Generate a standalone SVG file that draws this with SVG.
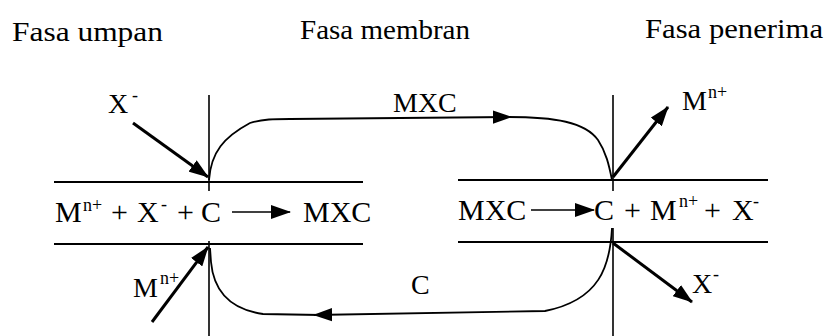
<svg xmlns="http://www.w3.org/2000/svg" width="831" height="336" viewBox="0 0 831 336">
<style>
text{font-family:"Liberation Serif",Tinos,"Noto Serif","DejaVu Serif",serif;fill:#000}
.t{font-size:28px}
.e{font-size:30px}
.s{font-size:18px}
.l{font-size:28px}
.hl{stroke:#000;stroke-width:2.2;fill:none}
.vl{stroke:#000;stroke-width:1.6;fill:none}
.cv{stroke:#000;stroke-width:1.8;fill:none}
.da{stroke:#000;stroke-width:3;fill:none}
</style>
<defs>
<marker id="ah" viewBox="0 0 20 14" markerWidth="20" markerHeight="14" refX="19" refY="7" orient="auto" markerUnits="userSpaceOnUse">
<path d="M0,0 L20,7 L0,14 Z" fill="#000"/>
</marker>
<marker id="ahs" viewBox="0 0 20 14" markerWidth="19" markerHeight="14" refX="19" refY="7" orient="auto" markerUnits="userSpaceOnUse">
<path d="M0,0 L20,7 L0,14 Z" fill="#000"/>
</marker>
</defs>
<rect width="831" height="336" fill="#fff"/>

<g id="title-umpan"><text class="t" x="12" y="41" textLength="151" lengthAdjust="spacingAndGlyphs">Fasa umpan</text></g>
<g id="title-membran"><text class="t" x="300" y="39" textLength="170" lengthAdjust="spacingAndGlyphs">Fasa membran</text></g>
<g id="title-penerima"><text class="t" x="645" y="38" textLength="178" lengthAdjust="spacingAndGlyphs">Fasa penerima</text></g>

<g id="membrane-left">
<line class="vl" x1="209" y1="95" x2="209" y2="191"/>
<line class="vl" x1="209" y1="241" x2="209" y2="336"/>
</g>
<g id="membrane-right">
<line class="vl" x1="613" y1="95" x2="613" y2="191"/>
<line class="vl" x1="613" y1="228" x2="613" y2="336"/>
</g>

<g id="interface-left">
<line class="hl" x1="54" y1="182" x2="363" y2="182"/>
<line class="hl" x1="54" y1="244" x2="363" y2="244"/>
<text class="e" x="55" y="222">M</text>
<text class="s" x="83" y="211">n+</text>
<text class="e" x="111" y="222">+</text>
<text class="e" x="137" y="222">X</text>
<text class="s" x="161" y="210">-</text>
<text class="e" x="177" y="222">+</text>
<text class="e" x="201" y="222">C</text>
<line class="vl" x1="232" y1="212" x2="290" y2="212" marker-end="url(#ah)"/>
<text class="e" x="303" y="222">MXC</text>
</g>

<g id="interface-right">
<line class="hl" x1="458" y1="180" x2="768" y2="180"/>
<line class="hl" x1="458" y1="242" x2="768" y2="242"/>
<text class="e" x="458" y="220">MXC</text>
<line class="vl" x1="531" y1="210" x2="594" y2="210" marker-end="url(#ah)"/>
<text class="e" x="594" y="220">C</text>
<text class="e" x="624" y="220">+</text>
<text class="e" x="650" y="220">M</text>
<text class="s" x="679" y="207">n+</text>
<text class="e" x="704" y="220">+</text>
<text class="e" x="732" y="220">X</text>
<text class="s" x="753" y="207">-</text>
</g>

<g id="label-x-feed"><text class="l" x="108" y="113">X</text><text class="s" x="132" y="101">-</text></g>
<g id="label-m-strip"><text class="l" x="682" y="110">M</text><text class="s" x="708" y="98">n+</text></g>
<g id="label-x-strip"><text class="l" x="692" y="293">X</text><text class="s" x="713" y="280">-</text></g>
<g id="label-m-feed"><text class="l" x="133" y="297">M</text><text class="s" x="160" y="284">n+</text></g>
<g id="label-mxc"><text class="l" x="393" y="112">MXC</text></g>
<g id="label-c"><text class="l" x="411" y="294">C</text></g>

<g id="connectors">
<path class="cv" d="M209,180 C211,152 224,137 250,123 C262,119 275,119 290,119 L511,117" marker-end="url(#ahs)"/>
<path class="cv" d="M508,117 C555,117 585,122 598,140 C606,152 609,165 612,180"/>
<path class="cv" d="M612,228 C610,266 600,300 545,311 L314,315" marker-end="url(#ahs)"/>
<path class="cv" d="M320,315 L263,314 C235,310 214,295 211,262 L210,248"/>
<line class="da" x1="133" y1="123" x2="208" y2="177" marker-end="url(#ah)"/>
<line class="da" x1="613" y1="177" x2="668" y2="107" marker-end="url(#ah)"/>
<line class="da" x1="613" y1="243" x2="692" y2="302" marker-end="url(#ah)"/>
<line class="da" x1="152" y1="322" x2="208" y2="247" marker-end="url(#ah)"/>
</g>
</svg>
